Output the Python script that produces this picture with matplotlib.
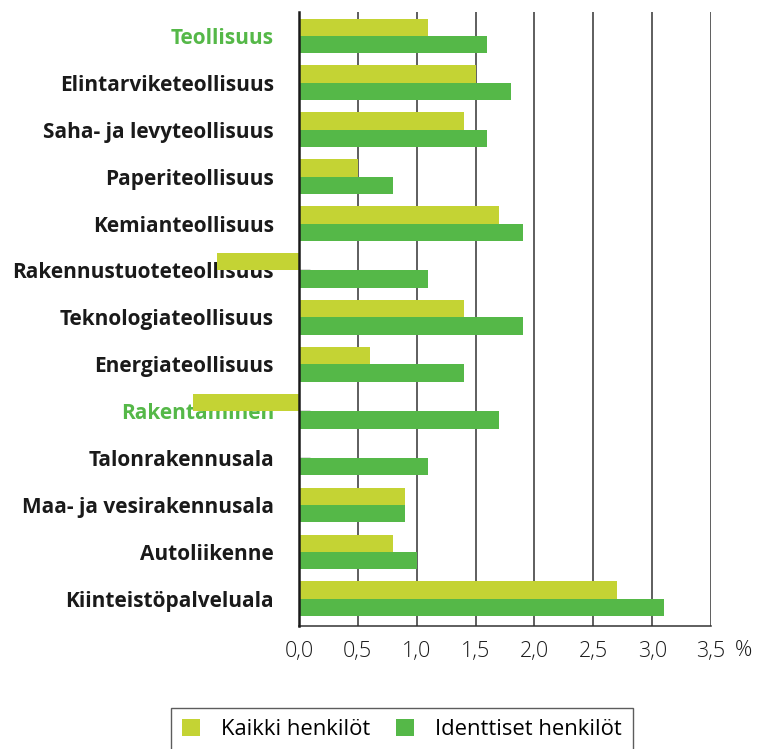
import matplotlib
matplotlib.use("Agg")
import matplotlib.pyplot as plt
from matplotlib.patches import Patch

categories = ["Teollisuus", "Elintarviketeollisuus", "Saha- ja levyteollisuus",
              "Paperiteollisuus", "Kemianteollisuus", "Rakennustuoteteollisuus",
              "Teknologiateollisuus", "Energiateollisuus", "Rakentaminen",
              "Talonrakennusala", "Maa- ja vesirakennusala", "Autoliikenne",
              "Kiinteistöpalveluala"]
headers = ["Teollisuus", "Rakentaminen"]
kaikki = [1.1, 1.5, 1.4, 0.5, 1.7, -0.7, 1.4, 0.6, -0.9, 0.0, 0.9, 0.8, 2.7]
identtiset = [1.6, 1.8, 1.6, 0.8, 1.9, 1.1, 1.9, 1.4, 1.7, 1.1, 0.9, 1.0, 3.1]
xticks = [0.0, 0.5, 1.0, 1.5, 2.0, 2.5, 3.0, 3.5]
xticklabels = ["0,0", "0,5", "1,0", "1,5", "2,0", "2,5", "3,0", "3,5"]
unit = "%"

c_k = "#C4D334"
c_i = "#55B848"
dark = "#1a1a1a"
font = "Open Sans"

fig = plt.figure(figsize=(7.62, 7.49), dpi=100)
ax = fig.add_axes([299/762, 1 - 626/749, (711-299)/762, (626-12)/749])

y = list(range(len(categories)))
h = 0.37
ax.barh([v - h/2 for v in y], kaikki, height=h, color=c_k, clip_on=False, zorder=3)
ax.barh([v + h/2 for v in y], identtiset, height=h, color=c_i, clip_on=False, zorder=3)

ax.set_xlim(0, 3.5)
ax.set_ylim(len(categories) - 1 + 0.58, -0.51)

for x in xticks[1:]:
    ax.axvline(x, color="#333333", lw=1.1, zorder=1)

for s in ["top", "right"]:
    ax.spines[s].set_visible(False)
ax.spines["left"].set_linewidth(1.8)
ax.spines["left"].set_color(dark)
ax.spines["left"].set_zorder(4)
ax.spines["bottom"].set_color("#333333")
ax.spines["bottom"].set_linewidth(1.1)

ax.set_xticks(xticks)
ax.set_xticklabels(xticklabels, fontsize=15.5, family=font, color=dark, fontweight="light")
ax.tick_params(axis="x", length=0, pad=11)
ax.set_yticks(y)
ax.set_yticklabels(categories, fontsize=15, family=font, fontweight="bold")
ax.tick_params(axis="y", direction="in", length=8, width=1, color="#555555", pad=18)
for lab in ax.get_yticklabels():
    if lab.get_text() in headers:
        lab.set_color(c_i)
    else:
        lab.set_color(dark)

fig.text(735/762, 1 - 650/749, unit, fontsize=15.5, family=font, color=dark,
         fontweight="light", ha="left", va="center")

handles = [Patch(facecolor=c_k, label="Kaikki henkilöt"),
           Patch(facecolor=c_i, label="Identtiset henkilöt")]
leg = fig.legend(handles=handles, loc="upper center", bbox_to_anchor=(402/762, 1 - 708/749),
                 ncol=2, frameon=True, fancybox=False, edgecolor="#333333",
                 prop={"family": font, "size": 15.8}, handlelength=0.8, handleheight=0.8,
                 columnspacing=1.2, handletextpad=0.95, borderpad=0.5, borderaxespad=0)
leg.get_frame().set_linewidth(1.0)

fig.savefig("out.png", dpi=100)
